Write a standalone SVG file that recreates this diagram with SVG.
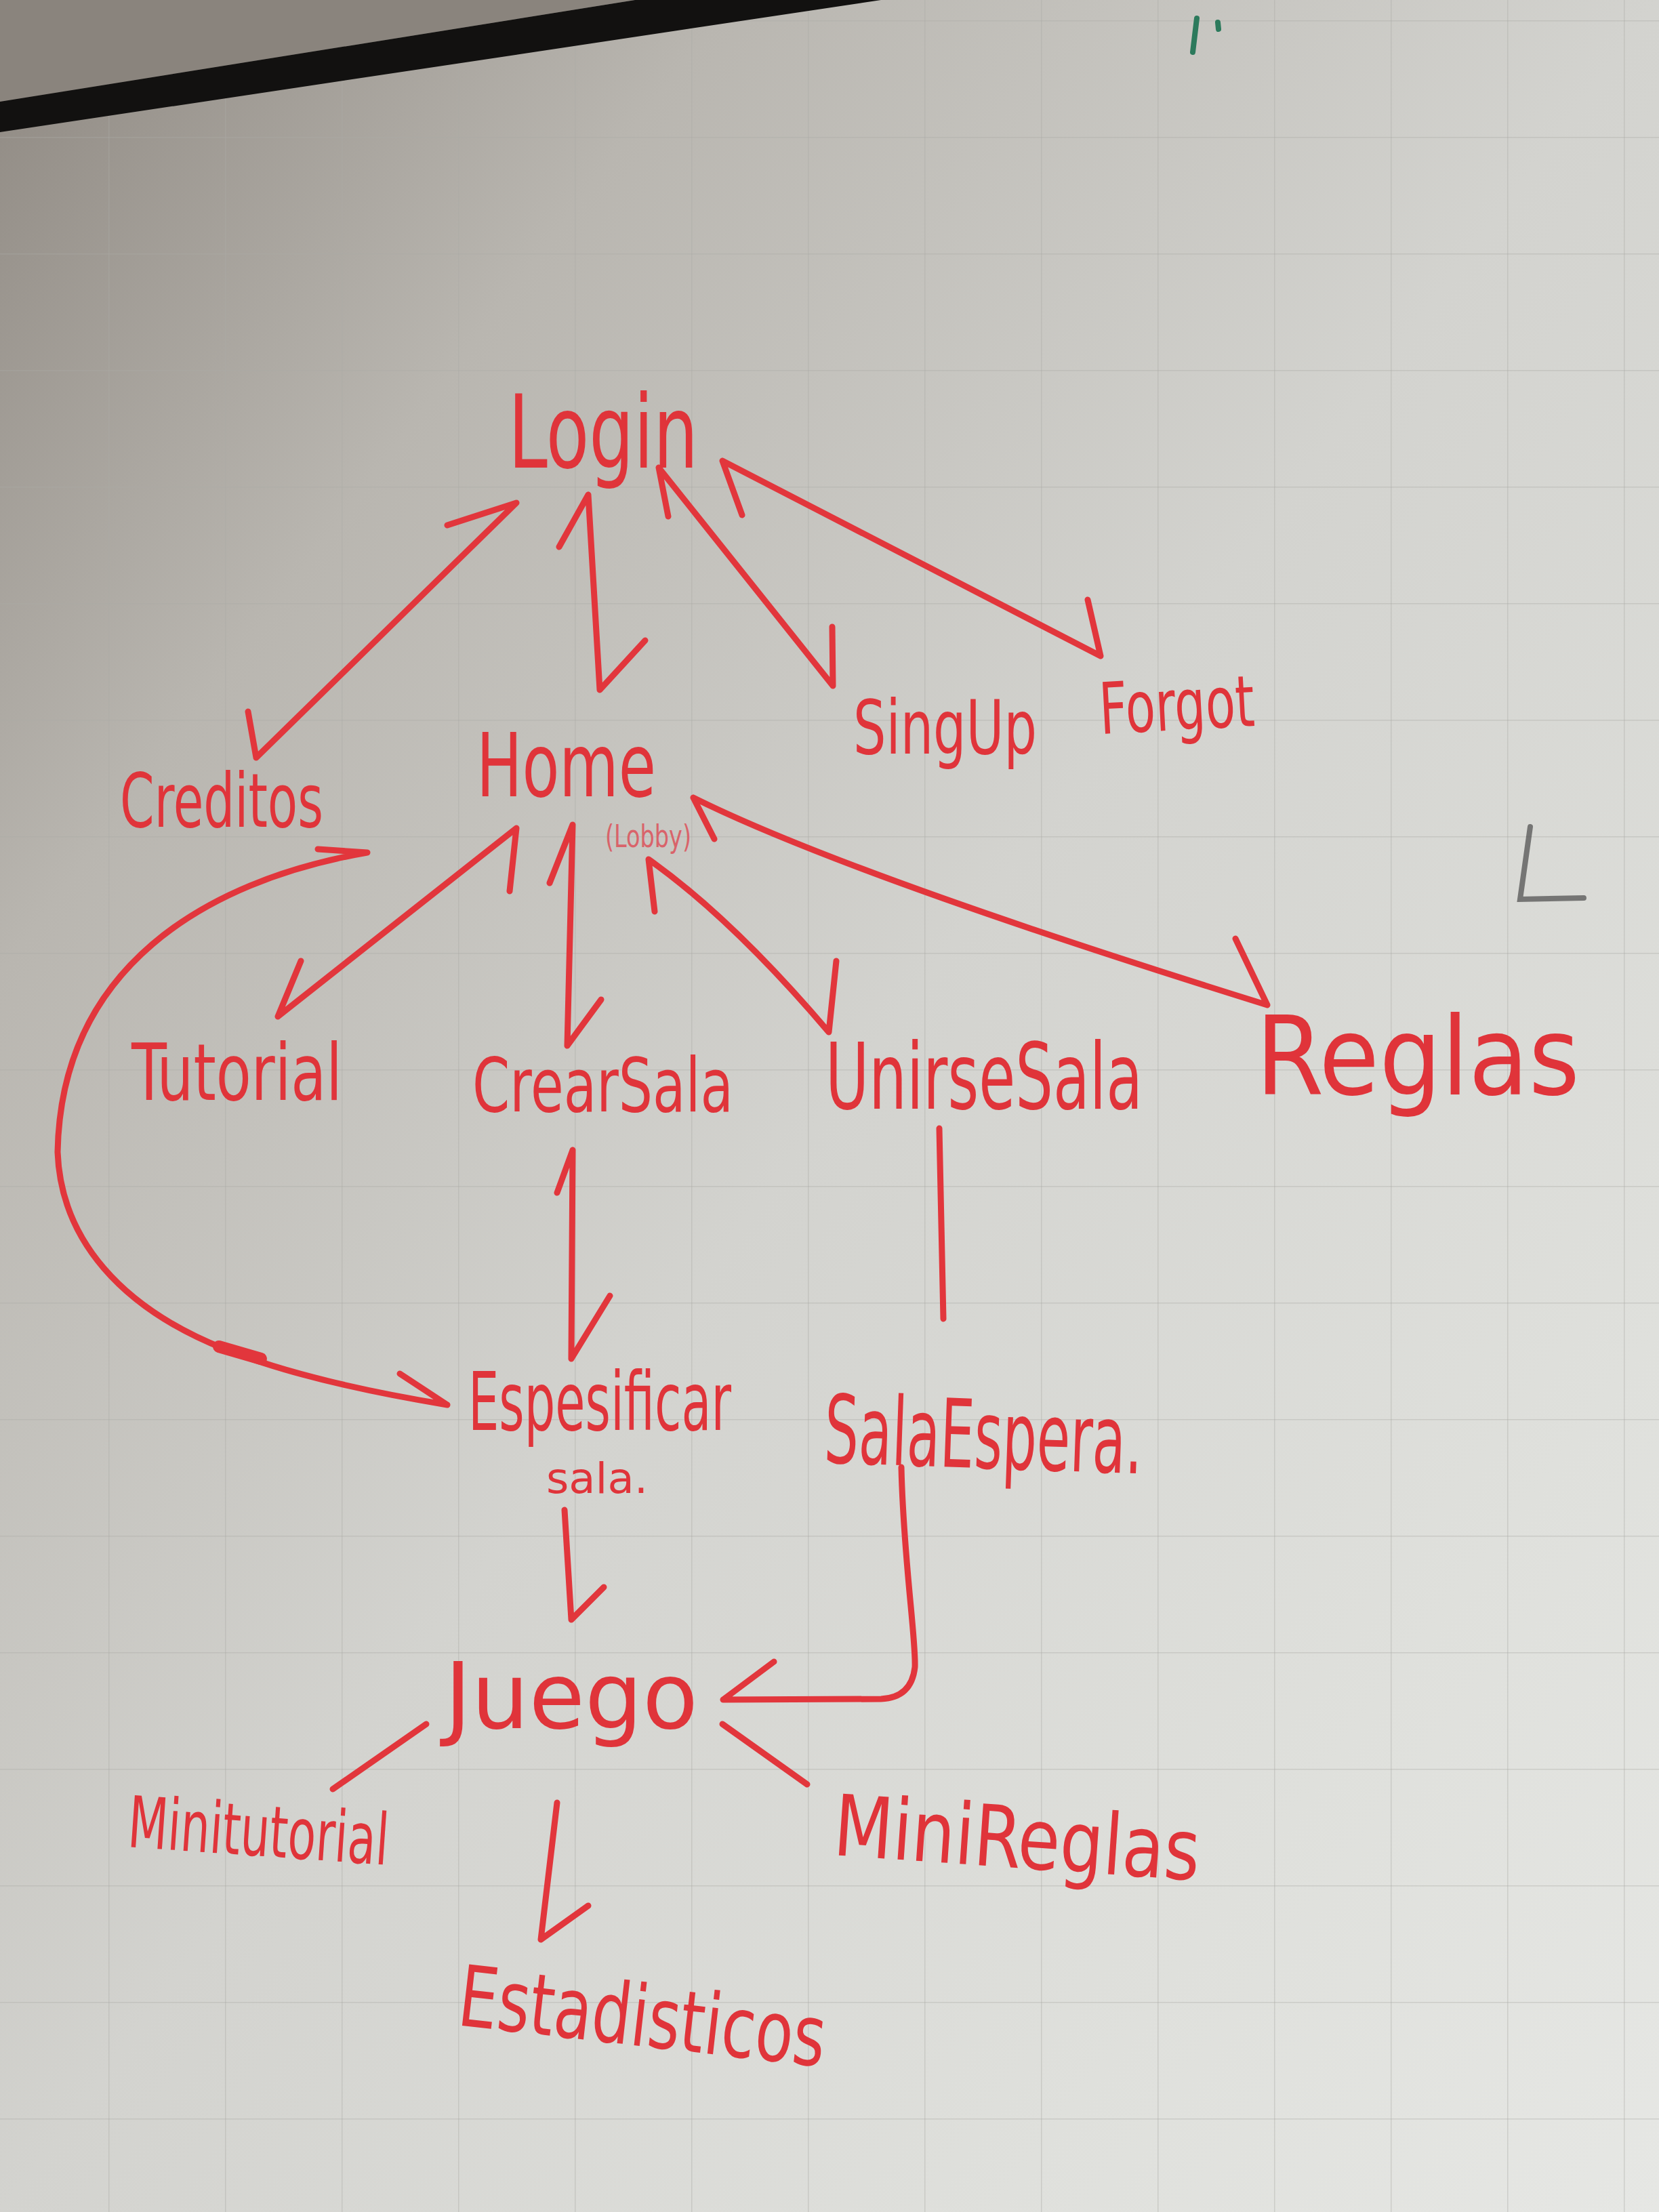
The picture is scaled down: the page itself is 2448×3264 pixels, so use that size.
<svg xmlns="http://www.w3.org/2000/svg" width="2448" height="3264" viewBox="0 0 2448 3264">
<style>
.lbl{font-family:'DejaVu Sans Condensed','Liberation Sans Narrow','Liberation Sans',sans-serif;fill:#e0343a;}
.con{fill:none;stroke:#e2363c;stroke-width:9;stroke-linecap:round;stroke-linejoin:round;}
.grid{stroke:#a9a9a4;stroke-width:3;opacity:0.4;}
</style>
<defs>
<linearGradient id="bg" x1="0" y1="0" x2="1" y2="1">
<stop offset="0" stop-color="#8e8881"/>
<stop offset="0.22" stop-color="#b9b6b0"/>
<stop offset="0.5" stop-color="#d3d3cf"/>
<stop offset="0.8" stop-color="#dfe0dc"/>
<stop offset="1" stop-color="#e6e7e4"/>
</linearGradient>
<pattern id="gp" x="-12" y="30" width="172" height="172" patternUnits="userSpaceOnUse">
<line class="grid" x1="0" y1="0" x2="172" y2="0"/>
<line class="grid" x1="0" y1="0" x2="0" y2="172"/>
</pattern>
</defs>
<rect width="2448" height="3264" fill="url(#bg)"/>
<rect width="2448" height="3264" fill="url(#gp)"/>
<polygon points="0,0 937,0 0,150" fill="#8a847d"/>
<polygon points="0,150 937,0 1300,0 0,195" fill="#121110"/>
<path d="M1766,27 L1760,77 M1797,33 L1798,43" stroke="#2c7a5c" stroke-width="8" stroke-linecap="round" fill="none"/>
<path d="M2258,1220 L2243,1327 L2337,1325" stroke="#4a4a4a" stroke-width="8" fill="none" opacity="0.7" stroke-linecap="round"/>

<g id="connectors">
<path class="con" d="M762,742 L378,1118 M762,742 L660,775 M378,1118 L366,1050"/>
<path class="con" d="M868,730 L885,1018 M868,730 L825,807 M885,1018 L952,945"/>
<path class="con" d="M972,690 L1229,1012 M972,690 L986,762 M1229,1012 L1228,925"/>
<path class="con" d="M1066,680 L1624,968 M1066,680 L1095,760 M1624,968 L1605,885"/>
<path class="con" d="M762,1222 L410,1500 M762,1222 L752,1315 M410,1500 L444,1418"/>
<path class="con" d="M845,1217 L837,1543 M845,1217 L811,1303 M837,1543 L887,1475"/>
<path class="con" d="M957,1268 Q1080,1355 1223,1523 M957,1268 L966,1345 M1223,1523 L1234,1418"/>
<path class="con" d="M1023,1177 Q1250,1290 1870,1483 M1023,1177 L1054,1238 M1870,1483 L1823,1385"/>
<path class="con" d="M542,1258 C300,1300 90,1430 85,1700 C90,1830 180,1930 330,1990 C430,2030 550,2055 660,2073 M660,2073 L590,2027 M542,1258 L469,1253"/>
<path class="con" d="M323,1987 L385,2005" style="stroke-width:18"/>
<path class="con" d="M845,1697 L843,2005 M845,1697 L822,1760 M843,2005 L900,1912"/>
<path class="con" d="M1386,1665 L1392,1946"/>
<path class="con" d="M833,2228 L843,2390 M843,2390 L891,2342"/>
<path class="con" d="M1330,2165 C1333,2300 1352,2420 1350,2460 Q1345,2505 1300,2507 L1067,2508 M1067,2508 L1142,2452"/>
<path class="con" d="M629,2544 L491,2640"/>
<path class="con" d="M1066,2544 L1191,2633"/>
<path class="con" d="M822,2660 L798,2862 M798,2862 L868,2812"/>
</g>

<g id="login"><text class="lbl" x="750" y="690" font-size="150" textLength="280" lengthAdjust="spacingAndGlyphs">Login</text></g>
<g id="home"><text class="lbl" x="703" y="1175" font-size="130" textLength="265" lengthAdjust="spacingAndGlyphs">Home</text>
<text class="lbl" x="893" y="1250" font-size="46" textLength="127" lengthAdjust="spacingAndGlyphs" style="fill:#d9636a">(Lobby)</text></g>
<g id="creditos"><text class="lbl" x="177" y="1220" font-size="110" textLength="300" lengthAdjust="spacingAndGlyphs">Creditos</text></g>
<g id="singup"><text class="lbl" x="1259" y="1112" font-size="110" textLength="271" lengthAdjust="spacingAndGlyphs">SingUp</text></g>
<g id="forgot"><text class="lbl" x="1624" y="1083" font-size="105" textLength="229" lengthAdjust="spacingAndGlyphs" transform="rotate(-3 1624 1083)">Forgot</text></g>
<g id="tutorial"><text class="lbl" x="194" y="1623" font-size="115" textLength="311" lengthAdjust="spacingAndGlyphs">Tutorial</text></g>
<g id="crearsala"><text class="lbl" x="697" y="1640" font-size="110" textLength="385" lengthAdjust="spacingAndGlyphs">CrearSala</text></g>
<g id="unirsesala"><text class="lbl" x="1218" y="1636" font-size="135" textLength="468" lengthAdjust="spacingAndGlyphs">UnirseSala</text></g>
<g id="reglas"><text class="lbl" x="1853" y="1615" font-size="160" textLength="478" lengthAdjust="spacingAndGlyphs">Reglas</text></g>
<g id="espesificar"><text class="lbl" x="691" y="2110" font-size="120" textLength="388" lengthAdjust="spacingAndGlyphs">Espesificar</text>
<text class="lbl" x="806" y="2203" font-size="62" textLength="150" lengthAdjust="spacingAndGlyphs">sala.</text></g>
<g id="salaespera"><text class="lbl" x="1215" y="2158" font-size="140" textLength="470" lengthAdjust="spacingAndGlyphs" transform="rotate(2 1215 2158)">SalaEspera.</text></g>
<g id="juego"><text class="lbl" x="656" y="2550" font-size="135" textLength="374" lengthAdjust="spacingAndGlyphs">Juego</text></g>
<g id="minitutorial"><text class="lbl" x="187" y="2725" font-size="105" textLength="385" lengthAdjust="spacingAndGlyphs" transform="rotate(4 187 2725)">Minitutorial</text></g>
<g id="minireglas"><text class="lbl" x="1228" y="2737" font-size="125" textLength="541" lengthAdjust="spacingAndGlyphs" transform="rotate(4 1228 2737)">MiniReglas</text></g>
<g id="estadisticos"><text class="lbl" x="673" y="2988" font-size="125" textLength="544" lengthAdjust="spacingAndGlyphs" transform="rotate(6.5 673 2988)">Estadisticos</text></g>
</svg>
